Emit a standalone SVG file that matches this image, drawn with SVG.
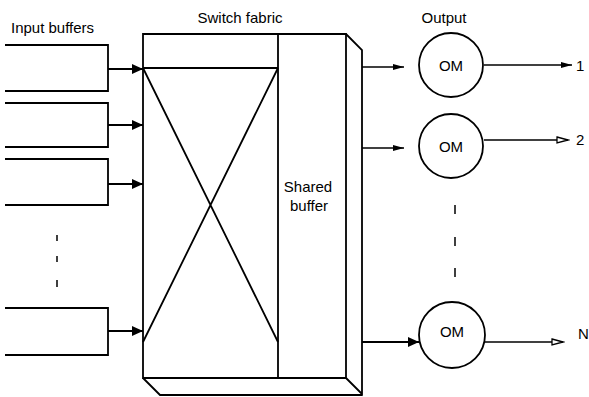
<svg xmlns="http://www.w3.org/2000/svg" width="589" height="397" viewBox="0 0 589 397">
<style>
.ln{fill:none;stroke:#000;stroke-width:1.8;stroke-linejoin:miter}
.th{fill:none;stroke:#000;stroke-width:1.5}
.t{font-family:"Liberation Sans",Arial,sans-serif;font-size:15px;fill:#000}
.m{text-anchor:middle}
</style>
<defs>
<marker id="ah" markerWidth="12" markerHeight="10" refX="11" refY="5" orient="auto" markerUnits="userSpaceOnUse">
<path d="M0,0 L11,5 L0,10 Z" fill="#000"/>
</marker>
<marker id="ahs" markerWidth="12" markerHeight="8" refX="11" refY="4" orient="auto" markerUnits="userSpaceOnUse">
<path d="M0,1 L11,4 L0,7 Z" fill="#000"/>
</marker>
<marker id="aho" markerWidth="14" markerHeight="8" refX="12" refY="4" orient="auto" markerUnits="userSpaceOnUse">
<path d="M1,1 L12,4 L1,7 Z" fill="#fff" stroke="#000" stroke-width="1.3"/>
</marker>
</defs>
<rect width="589" height="397" fill="#fff"/>
<g id="labels">
<text class="t" x="11" y="33">Input buffers</text>
<text class="t m" x="240" y="23">Switch fabric</text>
<text class="t m" x="444" y="23">Output</text>
</g>
<g id="buffer1"><path class="ln" d="M5,45 H108 V91 H5"/></g>
<g id="buffer2"><path class="ln" d="M5,103 H108 V147 H5"/></g>
<g id="buffer3"><path class="ln" d="M5,159 H108 V205 H5"/></g>
<g id="buffer4"><path class="ln" d="M5,308 H108 V355 H5"/></g>
<g id="dots-in"><path class="th" d="M57,235 V241 M57,256 V262 M57,280 V287"/></g>
<g id="fabric">
<path class="ln" d="M143,34 H346 V378 H143 Z"/>
<path class="ln" d="M346,34 L362,50 V394 L346,378"/>
<path class="ln" d="M143,378 L160,395 H362"/>
<path class="ln" d="M143,68 H278 M278,34 V378"/>
<path class="ln" d="M143,68 L278,342 M278,68 L143,342"/>
<text class="t m" x="308" y="192">Shared</text>
<text class="t m" x="309" y="211">buffer</text>
</g>
<g id="om1"><circle class="ln" cx="451" cy="65" r="32"/><text class="t m" x="451" y="71">OM</text></g>
<g id="om2"><circle class="ln" cx="451" cy="146" r="32"/><text class="t m" x="451" y="152">OM</text></g>
<g id="om3"><circle class="ln" cx="452" cy="335" r="33"/><text class="t m" x="452" y="337">OM</text></g>
<g id="dots-out"><path class="th" d="M455,205 V214 M455,237 V246 M455,268 V277"/></g>
<g id="connectors">
<path class="ln" d="M108,69 H143" marker-end="url(#ah)"/>
<path class="ln" d="M108,125 H143" marker-end="url(#ah)"/>
<path class="ln" d="M108,184 H143" marker-end="url(#ah)"/>
<path class="ln" d="M108,331 H143" marker-end="url(#ah)"/>
<path class="th" d="M362,67 H404" marker-end="url(#ahs)"/>
<path class="th" d="M362,148 H404" marker-end="url(#ahs)"/>
<path class="ln" d="M362,342 H419" marker-end="url(#ah)"/>
<path class="th" d="M484,65 H572" marker-end="url(#ahs)"/>
<path class="th" d="M484,140 H568" marker-end="url(#aho)"/>
<path class="th" d="M485,342 H563" marker-end="url(#aho)"/>
</g>
<g id="outputs">
<text class="t" x="576" y="71">1</text>
<text class="t" x="576" y="145">2</text>
<text class="t" x="578" y="339">N</text>
</g>
</svg>
